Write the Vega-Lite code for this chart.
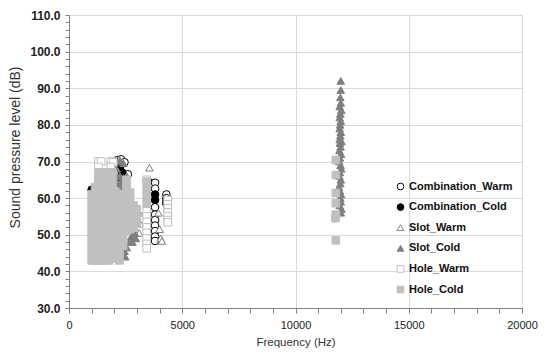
{
  "$schema": "https://vega.github.io/schema/vega-lite/v6.json",
  "width": 453,
  "height": 293,
  "autosize": "none",
  "padding": {"left": 69, "top": 15, "right": 26, "bottom": 46},
  "config": {
    "view": {"stroke": null},
    "font": "Liberation Sans",
    "axis": {"gridColor": "#d9d9d9", "domainColor": "#808080", "tickColor": "#808080", "labelColor": "#222", "titleColor": "#333", "titleFontWeight": "normal", "labelOverlap": false, "labelFlush": false}
  },
  "data": {"values": [
    {"s":"Combination_Warm","f":2150,"d":70.4},
    {"s":"Combination_Warm","f":2300,"d":70.6},
    {"s":"Combination_Warm","f":2450,"d":69.8},
    {"s":"Combination_Warm","f":2600,"d":66.5},
    {"s":"Combination_Warm","f":3500,"d":64.5},
    {"s":"Combination_Warm","f":3800,"d":64.2},
    {"s":"Combination_Warm","f":3800,"d":62.6},
    {"s":"Combination_Warm","f":3800,"d":57.5},
    {"s":"Combination_Warm","f":3800,"d":55.5},
    {"s":"Combination_Warm","f":3800,"d":54},
    {"s":"Combination_Warm","f":3800,"d":52.5},
    {"s":"Combination_Warm","f":3800,"d":51},
    {"s":"Combination_Warm","f":3800,"d":49.5},
    {"s":"Combination_Warm","f":3800,"d":48.3},
    {"s":"Combination_Warm","f":4300,"d":61},
    {"s":"Combination_Warm","f":4300,"d":60},
    {"s":"Combination_Warm","f":4300,"d":59.2},
    {"s":"Combination_Cold","f":1000,"d":62.3},
    {"s":"Combination_Cold","f":2250,"d":68.5},
    {"s":"Combination_Cold","f":2350,"d":67},
    {"s":"Combination_Cold","f":2300,"d":65.5},
    {"s":"Combination_Cold","f":3800,"d":61},
    {"s":"Combination_Cold","f":3800,"d":59.5},
    {"s":"Combination_Cold","f":4300,"d":58.5},
    {"s":"Slot_Warm","f":3550,"d":68.3},
    {"s":"Slot_Warm","f":3100,"d":56},
    {"s":"Slot_Warm","f":3150,"d":53},
    {"s":"Slot_Warm","f":3100,"d":50.5},
    {"s":"Slot_Warm","f":3950,"d":56},
    {"s":"Slot_Warm","f":4000,"d":51.5},
    {"s":"Slot_Warm","f":4050,"d":49},
    {"s":"Slot_Warm","f":4100,"d":48.3},
    {"s":"Slot_Cold","f":2100,"d":70},
    {"s":"Slot_Cold","f":2100,"d":68},
    {"s":"Slot_Cold","f":2100,"d":66},
    {"s":"Slot_Cold","f":2100,"d":64},
    {"s":"Slot_Cold","f":2250,"d":70.3},
    {"s":"Slot_Cold","f":2250,"d":66},
    {"s":"Slot_Cold","f":2250,"d":64},
    {"s":"Slot_Cold","f":2250,"d":62.5},
    {"s":"Slot_Cold","f":2400,"d":69.5},
    {"s":"Slot_Cold","f":2400,"d":65.5},
    {"s":"Slot_Cold","f":2400,"d":63.5},
    {"s":"Slot_Cold","f":2550,"d":66},
    {"s":"Slot_Cold","f":2550,"d":64},
    {"s":"Slot_Cold","f":1800,"d":44},
    {"s":"Slot_Cold","f":2480,"d":44},
    {"s":"Slot_Cold","f":2450,"d":45.5},
    {"s":"Slot_Cold","f":2550,"d":46.5},
    {"s":"Slot_Cold","f":2650,"d":48},
    {"s":"Slot_Cold","f":2750,"d":49.5},
    {"s":"Slot_Cold","f":2900,"d":50.5},
    {"s":"Slot_Cold","f":2800,"d":48},
    {"s":"Slot_Cold","f":2950,"d":49},
    {"s":"Slot_Cold","f":12000,"d":92},
    {"s":"Slot_Cold","f":12000,"d":89.5},
    {"s":"Slot_Cold","f":11980,"d":87.5},
    {"s":"Slot_Cold","f":12000,"d":86},
    {"s":"Slot_Cold","f":11950,"d":85},
    {"s":"Slot_Cold","f":12020,"d":84},
    {"s":"Slot_Cold","f":11980,"d":83},
    {"s":"Slot_Cold","f":11950,"d":82},
    {"s":"Slot_Cold","f":12000,"d":81},
    {"s":"Slot_Cold","f":11970,"d":80},
    {"s":"Slot_Cold","f":11950,"d":79},
    {"s":"Slot_Cold","f":12000,"d":78},
    {"s":"Slot_Cold","f":11980,"d":77},
    {"s":"Slot_Cold","f":11950,"d":76},
    {"s":"Slot_Cold","f":12030,"d":75.5},
    {"s":"Slot_Cold","f":11960,"d":75},
    {"s":"Slot_Cold","f":11990,"d":74},
    {"s":"Slot_Cold","f":11940,"d":73},
    {"s":"Slot_Cold","f":12010,"d":72},
    {"s":"Slot_Cold","f":11960,"d":71},
    {"s":"Slot_Cold","f":11930,"d":70},
    {"s":"Slot_Cold","f":11990,"d":69},
    {"s":"Slot_Cold","f":12020,"d":68},
    {"s":"Slot_Cold","f":11960,"d":67},
    {"s":"Slot_Cold","f":11940,"d":66},
    {"s":"Slot_Cold","f":12000,"d":65},
    {"s":"Slot_Cold","f":11980,"d":64},
    {"s":"Slot_Cold","f":11920,"d":63},
    {"s":"Slot_Cold","f":11960,"d":62},
    {"s":"Slot_Cold","f":12010,"d":61},
    {"s":"Slot_Cold","f":11980,"d":60},
    {"s":"Slot_Cold","f":12000,"d":59},
    {"s":"Slot_Cold","f":11950,"d":58},
    {"s":"Slot_Cold","f":12030,"d":57},
    {"s":"Slot_Cold","f":12000,"d":56},
    {"s":"Hole_Warm","f":1300,"d":70},
    {"s":"Hole_Warm","f":1420,"d":70},
    {"s":"Hole_Warm","f":1850,"d":70},
    {"s":"Hole_Warm","f":1950,"d":69.8},
    {"s":"Hole_Warm","f":1300,"d":68.5},
    {"s":"Hole_Warm","f":1850,"d":68.5},
    {"s":"Hole_Warm","f":3430,"d":65},
    {"s":"Hole_Warm","f":3430,"d":56.5},
    {"s":"Hole_Warm","f":3430,"d":55},
    {"s":"Hole_Warm","f":3430,"d":53.5},
    {"s":"Hole_Warm","f":3430,"d":52},
    {"s":"Hole_Warm","f":3430,"d":50.5},
    {"s":"Hole_Warm","f":3430,"d":49},
    {"s":"Hole_Warm","f":3430,"d":47.5},
    {"s":"Hole_Warm","f":3430,"d":46.3},
    {"s":"Hole_Warm","f":4360,"d":59.5},
    {"s":"Hole_Warm","f":4360,"d":58.3},
    {"s":"Hole_Warm","f":4360,"d":57.2},
    {"s":"Hole_Warm","f":4360,"d":56.1},
    {"s":"Hole_Warm","f":4360,"d":55},
    {"s":"Hole_Warm","f":4360,"d":54},
    {"s":"Hole_Warm","f":4360,"d":53.4},
    {"s":"Hole_Cold","f":1000,"d":43},{"s":"Hole_Cold","f":1000,"d":45},{"s":"Hole_Cold","f":1000,"d":47},{"s":"Hole_Cold","f":1000,"d":49},{"s":"Hole_Cold","f":1000,"d":51},{"s":"Hole_Cold","f":1000,"d":53},{"s":"Hole_Cold","f":1000,"d":55},{"s":"Hole_Cold","f":1000,"d":57},{"s":"Hole_Cold","f":1000,"d":59},{"s":"Hole_Cold","f":1000,"d":61},
    {"s":"Hole_Cold","f":1150,"d":43},{"s":"Hole_Cold","f":1150,"d":45},{"s":"Hole_Cold","f":1150,"d":47},{"s":"Hole_Cold","f":1150,"d":49},{"s":"Hole_Cold","f":1150,"d":51},{"s":"Hole_Cold","f":1150,"d":53},{"s":"Hole_Cold","f":1150,"d":55},{"s":"Hole_Cold","f":1150,"d":57},{"s":"Hole_Cold","f":1150,"d":59},{"s":"Hole_Cold","f":1150,"d":61},{"s":"Hole_Cold","f":1150,"d":63},
    {"s":"Hole_Cold","f":1300,"d":43},{"s":"Hole_Cold","f":1300,"d":45},{"s":"Hole_Cold","f":1300,"d":47},{"s":"Hole_Cold","f":1300,"d":49},{"s":"Hole_Cold","f":1300,"d":51},{"s":"Hole_Cold","f":1300,"d":53},{"s":"Hole_Cold","f":1300,"d":55},{"s":"Hole_Cold","f":1300,"d":57},{"s":"Hole_Cold","f":1300,"d":59},{"s":"Hole_Cold","f":1300,"d":61},{"s":"Hole_Cold","f":1300,"d":63},{"s":"Hole_Cold","f":1300,"d":65},{"s":"Hole_Cold","f":1300,"d":67},
    {"s":"Hole_Cold","f":1450,"d":43},{"s":"Hole_Cold","f":1450,"d":45},{"s":"Hole_Cold","f":1450,"d":47},{"s":"Hole_Cold","f":1450,"d":49},{"s":"Hole_Cold","f":1450,"d":51},{"s":"Hole_Cold","f":1450,"d":53},{"s":"Hole_Cold","f":1450,"d":55},{"s":"Hole_Cold","f":1450,"d":57},{"s":"Hole_Cold","f":1450,"d":59},{"s":"Hole_Cold","f":1450,"d":61},{"s":"Hole_Cold","f":1450,"d":63},{"s":"Hole_Cold","f":1450,"d":65},{"s":"Hole_Cold","f":1450,"d":67},
    {"s":"Hole_Cold","f":1600,"d":43},{"s":"Hole_Cold","f":1600,"d":45},{"s":"Hole_Cold","f":1600,"d":47},{"s":"Hole_Cold","f":1600,"d":49},{"s":"Hole_Cold","f":1600,"d":51},{"s":"Hole_Cold","f":1600,"d":53},{"s":"Hole_Cold","f":1600,"d":55},{"s":"Hole_Cold","f":1600,"d":57},{"s":"Hole_Cold","f":1600,"d":59},{"s":"Hole_Cold","f":1600,"d":61},{"s":"Hole_Cold","f":1600,"d":63},
    {"s":"Hole_Cold","f":1770,"d":43},{"s":"Hole_Cold","f":1770,"d":45},{"s":"Hole_Cold","f":1770,"d":47},{"s":"Hole_Cold","f":1770,"d":49},{"s":"Hole_Cold","f":1770,"d":51},{"s":"Hole_Cold","f":1770,"d":53},{"s":"Hole_Cold","f":1770,"d":55},{"s":"Hole_Cold","f":1770,"d":57},{"s":"Hole_Cold","f":1770,"d":59},{"s":"Hole_Cold","f":1770,"d":61},{"s":"Hole_Cold","f":1770,"d":63},{"s":"Hole_Cold","f":1770,"d":65},{"s":"Hole_Cold","f":1770,"d":67},
    {"s":"Hole_Cold","f":1920,"d":45},{"s":"Hole_Cold","f":1920,"d":47},{"s":"Hole_Cold","f":1920,"d":49},{"s":"Hole_Cold","f":1920,"d":51},{"s":"Hole_Cold","f":1920,"d":53},{"s":"Hole_Cold","f":1920,"d":55},{"s":"Hole_Cold","f":1920,"d":57},{"s":"Hole_Cold","f":1920,"d":59},{"s":"Hole_Cold","f":1920,"d":61},{"s":"Hole_Cold","f":1920,"d":63},{"s":"Hole_Cold","f":1920,"d":65},{"s":"Hole_Cold","f":1920,"d":67},
    {"s":"Hole_Cold","f":2080,"d":43.5},{"s":"Hole_Cold","f":2080,"d":45.5},{"s":"Hole_Cold","f":2080,"d":47.5},{"s":"Hole_Cold","f":2080,"d":49.5},{"s":"Hole_Cold","f":2080,"d":51.5},{"s":"Hole_Cold","f":2080,"d":53.5},{"s":"Hole_Cold","f":2080,"d":55.5},{"s":"Hole_Cold","f":2080,"d":57.5},{"s":"Hole_Cold","f":2080,"d":59.5},{"s":"Hole_Cold","f":2080,"d":61.5},
    {"s":"Hole_Cold","f":2230,"d":43},{"s":"Hole_Cold","f":2230,"d":45},{"s":"Hole_Cold","f":2230,"d":47},{"s":"Hole_Cold","f":2230,"d":49},{"s":"Hole_Cold","f":2230,"d":51},{"s":"Hole_Cold","f":2230,"d":53},{"s":"Hole_Cold","f":2230,"d":55},{"s":"Hole_Cold","f":2230,"d":57},{"s":"Hole_Cold","f":2230,"d":59},{"s":"Hole_Cold","f":2230,"d":61},
    {"s":"Hole_Cold","f":2390,"d":47},{"s":"Hole_Cold","f":2390,"d":49},{"s":"Hole_Cold","f":2390,"d":51},{"s":"Hole_Cold","f":2390,"d":53},{"s":"Hole_Cold","f":2390,"d":55},{"s":"Hole_Cold","f":2390,"d":57},{"s":"Hole_Cold","f":2390,"d":59},{"s":"Hole_Cold","f":2390,"d":61},
    {"s":"Hole_Cold","f":2540,"d":51},{"s":"Hole_Cold","f":2540,"d":53},{"s":"Hole_Cold","f":2540,"d":55},{"s":"Hole_Cold","f":2540,"d":57},{"s":"Hole_Cold","f":2540,"d":59},{"s":"Hole_Cold","f":2540,"d":61},{"s":"Hole_Cold","f":2540,"d":63},{"s":"Hole_Cold","f":2540,"d":65},
    {"s":"Hole_Cold","f":2700,"d":51.5},{"s":"Hole_Cold","f":2700,"d":53.5},{"s":"Hole_Cold","f":2700,"d":55.5},{"s":"Hole_Cold","f":2700,"d":57.5},{"s":"Hole_Cold","f":2700,"d":59.5},{"s":"Hole_Cold","f":2700,"d":61.5},
    {"s":"Hole_Cold","f":2850,"d":52},{"s":"Hole_Cold","f":2850,"d":54},{"s":"Hole_Cold","f":2850,"d":56},{"s":"Hole_Cold","f":2850,"d":58},
    {"s":"Hole_Cold","f":2990,"d":53},{"s":"Hole_Cold","f":2990,"d":55},{"s":"Hole_Cold","f":2990,"d":57},
    {"s":"Hole_Cold","f":3430,"d":64.5},{"s":"Hole_Cold","f":3430,"d":62.5},{"s":"Hole_Cold","f":3430,"d":60.5},{"s":"Hole_Cold","f":3430,"d":58.5},
    {"s":"Hole_Cold","f":11780,"d":70.4},{"s":"Hole_Cold","f":11780,"d":66.3},{"s":"Hole_Cold","f":11780,"d":61.4},{"s":"Hole_Cold","f":11780,"d":58.6},{"s":"Hole_Cold","f":11780,"d":55.5},{"s":"Hole_Cold","f":11760,"d":54.5},{"s":"Hole_Cold","f":11780,"d":48.5}
  ]},
  "mark": {"type": "point", "filled": true, "size": 58, "strokeWidth": 1, "opacity": 1},
  "encoding": {
    "x": {"field": "f", "type": "quantitative", "scale": {"domain": [0, 20000], "nice": false, "zero": false},
      "axis": {"title": "Frequency (Hz)", "titleFontSize": 11.5, "titlePadding": 6, "labelFontSize": 11, "labelPadding": 6, "tickSize": 5,
        "values": [0,1000,2000,3000,4000,5000,6000,7000,8000,9000,10000,11000,12000,13000,14000,15000,16000,17000,18000,19000,20000],
        "labelExpr": "datum.value % 5000 === 0 ? '' + datum.value : ''",
        "gridOpacity": {"condition": {"test": "datum.value % 5000 === 0", "value": 1}, "value": 0}}},
    "y": {"field": "d", "type": "quantitative", "scale": {"domain": [30, 110], "nice": false, "zero": false},
      "axis": {"title": "Sound pressure level (dB)", "titleFontSize": 14, "titlePadding": 7, "titleY": 132, "labelFontSize": 12, "labelFontWeight": "bold", "labelPadding": 5, "tickSize": 4,
        "values": [30,32,34,36,38,40,42,44,46,48,50,52,54,56,58,60,62,64,66,68,70,72,74,76,78,80,82,84,86,88,90,92,94,96,98,100,102,104,106,108,110],
        "labelExpr": "datum.value % 10 === 0 ? format(datum.value, '.1f') : ''",
        "gridOpacity": {"condition": {"test": "datum.value % 10 === 0", "value": 1}, "value": 0}}},
    "shape": {"field": "s", "type": "nominal", "scale": {"domain": ["Combination_Warm","Combination_Cold","Slot_Warm","Slot_Cold","Hole_Warm","Hole_Cold"], "range": ["circle","circle","triangle-up","triangle-up","square","square"]},
      "legend": {"title": null, "orient": "none", "legendX": 326, "legendY": 166, "labelFontSize": 11, "labelFontWeight": "bold", "labelColor": "#111", "rowPadding": 8.6, "symbolSize": 45, "labelOffset": 3, "symbolStrokeWidth": 1}},
    "fill": {"field": "s", "type": "nominal", "scale": {"domain": ["Combination_Warm","Combination_Cold","Slot_Warm","Slot_Cold","Hole_Warm","Hole_Cold"], "range": ["#ffffff","#000000","#ffffff","#7f7f7f","#ffffff","#c0c0c0"]}},
    "stroke": {"field": "s", "type": "nominal", "scale": {"domain": ["Combination_Warm","Combination_Cold","Slot_Warm","Slot_Cold","Hole_Warm","Hole_Cold"], "range": ["#000000","#000000","#7f7f7f","#7f7f7f","#bfbfbf","#c0c0c0"]}}
  }
}
